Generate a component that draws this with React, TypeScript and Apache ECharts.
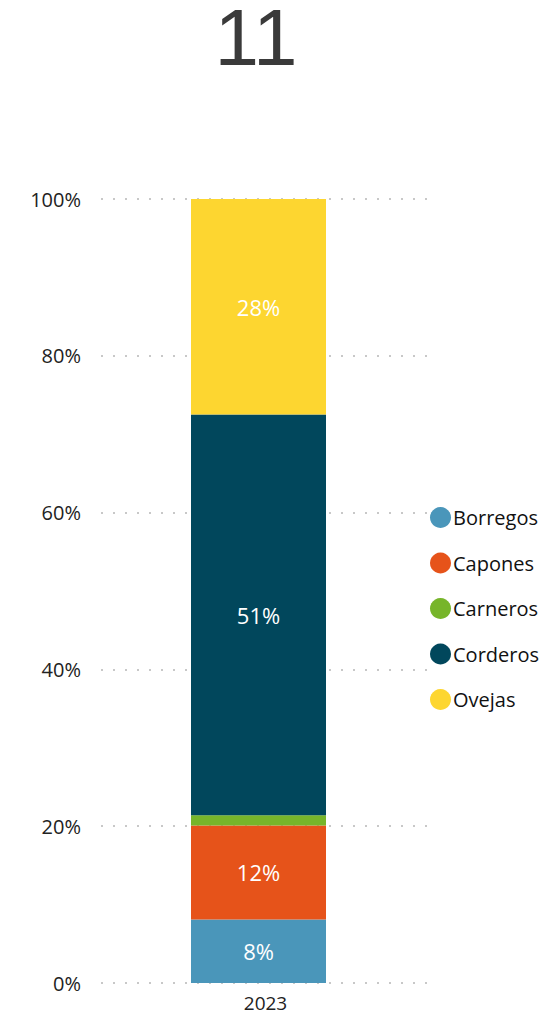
import React, { useEffect, useRef } from "react";
import * as echarts from "echarts";

const categories = ["2023"];
const seriesNames = ["Borregos", "Capones", "Carneros", "Corderos", "Ovejas"];
const seriesValues = [8.1, 12.0, 1.3, 51.1, 27.5];
const seriesColors = ["#4a96ba", "#e6531a", "#77b52a", "#01475c", "#fdd630"];
const yTicks = [0, 20, 40, 60, 80, 100];
const titleText = "11";

const FONT = "'Open Sans', 'Noto Sans', sans-serif";

export default function App() {
  const ref = useRef<HTMLDivElement>(null);
  useEffect(() => {
    if (!ref.current) return;
    const chart = echarts.init(ref.current, undefined, { renderer: "svg" });
    const series = seriesNames.map((name, i) => ({
      name,
      type: "bar",
      stack: "total",
      xAxisIndex: 0,
      yAxisIndex: 0,
      barWidth: 135,
      data: [seriesValues[i]],
      itemStyle: { color: seriesColors[i] },
      label: {
        show: seriesValues[i] >= 3,
        position: "inside",
        color: "#ffffff",
        fontFamily: FONT,
        fontSize: 22,
        formatter: (p: any) => Math.round(p.value) + "%",
      },
    }));
    chart.setOption({
      animation: false,
      textStyle: { fontFamily: FONT },
      graphic: [
        {
          type: "text",
          x: 256,
          y: 37,
          style: {
            text: titleText,
            font: "normal 400 80px 'Liberation Sans', Arial, sans-serif",
            lineHeight: 66,
            fill: "#3a3a3a",
            textAlign: "center",
            textVerticalAlign: "middle",
          },
        },
      ],
      legend: {
        orient: "vertical",
        left: 430,
        top: 507,
        padding: 0,
        icon: "circle",
        itemWidth: 21,
        itemHeight: 21,
        itemGap: 24.5,
        data: seriesNames,
        textStyle: { fontFamily: FONT, fontSize: 20, color: "#111111", padding: [0, 0, 0, -3] },
      },
      grid: [
        { left: 101, right: 132, top: 199, bottom: 32 },
        { left: 101, right: 118, top: 199, bottom: 32 },
      ],
      xAxis: [
        {
          type: "category",
          gridIndex: 0,
          data: categories,
          show: false,
        },
        {
          type: "category",
          gridIndex: 1,
          data: categories,
          axisLine: { show: false },
          axisTick: { show: false },
          axisLabel: { fontFamily: FONT, fontSize: 19, color: "#222222", margin: 10 },
        },
      ],
      yAxis: [
        {
          type: "value",
          gridIndex: 0,
          min: 0,
          max: 100,
          interval: 20,
          show: false,
          splitLine: { show: false },
        },
        {
          type: "value",
          gridIndex: 1,
          min: yTicks[0],
          max: yTicks[yTicks.length - 1],
          interval: 20,
          axisLine: { show: false },
          axisTick: { show: false },
          axisLabel: {
            fontFamily: FONT,
            fontSize: 20,
            color: "#222222",
            margin: 20,
            formatter: (v: number) => v + "%",
          },
          splitLine: {
            show: true,
            lineStyle: { color: "#c8c8c8", width: 2, type: [2, 10] },
          },
        },
      ],
      series,
    });
    return () => chart.dispose();
  }, []);
  return <div ref={ref} style={{ width: 548, height: 1015, position: "absolute", left: 0, top: 0 }} />;
}
